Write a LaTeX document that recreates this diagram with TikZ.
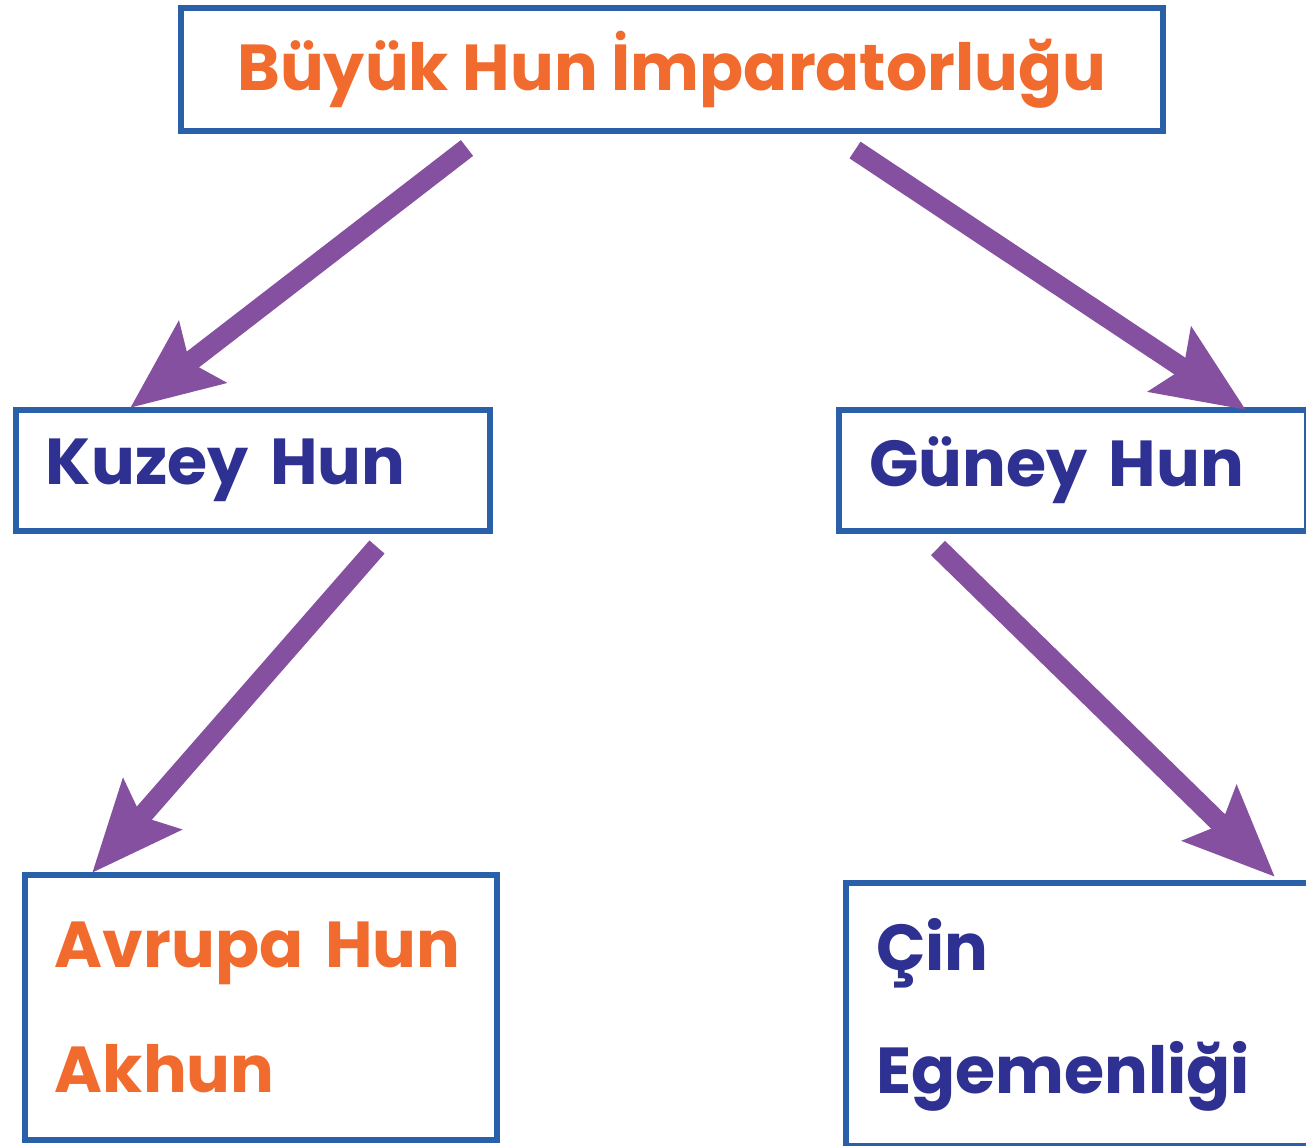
\documentclass[tikz,border=0pt]{standalone}
\usepackage{fontspec}
\setmainfont{Poppins}
\usetikzlibrary{arrows.meta}
\definecolor{turuncu}{HTML}{F26B2E}
\definecolor{lacivert}{HTML}{2E3192}
\definecolor{kenar}{HTML}{2A5FAA}
\definecolor{mor}{HTML}{8550A0}
\begin{document}
\begin{tikzpicture}[x=0.02cm,y=-0.02cm]
  \tikzstyle{kutu}=[draw=kenar, line width=0.12cm, anchor=north west,
  inner ysep=0pt, inner xsep=0.6cm, align=left, fill=white]
  \tikzstyle{ok}=[-{Stealth[length=1.8cm,width=1.5cm,inset=0.3cm]},
  line width=0.4cm, draw=mor]
  \useasboundingbox (0,0) rectangle (1306,1146);
  \node[kutu, minimum width=19.64cm, minimum height=2.46cm, align=center,
  inner xsep=0pt, text=turuncu, font=\fontsize{37}{46}\selectfont\bfseries]
  (ust) at (178,5) {Büyük Hun İmparatorluğu};
  \node[kutu, text width=8.28cm, minimum height=2.42cm, text=lacivert,
  font=\fontsize{37}{46}\selectfont\bfseries] (kuzey) at (13,407) {Kuzey Hun};
  \node[kutu, text width=8.16cm, minimum height=2.42cm, text=lacivert,
  font=\fontsize{37}{46}\selectfont\bfseries] (guney) at (836,407) {Güney Hun};
  \node[kutu, text width=8.24cm, minimum height=5.3cm, text=turuncu,
  font=\fontsize{37}{71}\selectfont\bfseries] (avrupa) at (22,872)
  {Avrupa Hun\\Akhun\\[-0.5cm]};
  \node[kutu, text width=8.54cm, minimum height=5.26cm, text=lacivert,
  font=\fontsize{37}{70}\selectfont\bfseries] (cin) at (843,880) {Çin\\Egemenliği};
  % ok uclari
  \foreach \n/\x/\y in {u1/467/148,k1/130/408,u2/855/150,g1/1246/410,
    k2/377/547,a1/92/873,g2/938/548,c1/1275/877} {
    \coordinate (\n) at (\x,\y);
  }
  \foreach \a/\b in {u1/k1,u2/g1,k2/a1,g2/c1} {
    \draw[ok] (\a) -- (\b);
  }
\end{tikzpicture}
\end{document}
